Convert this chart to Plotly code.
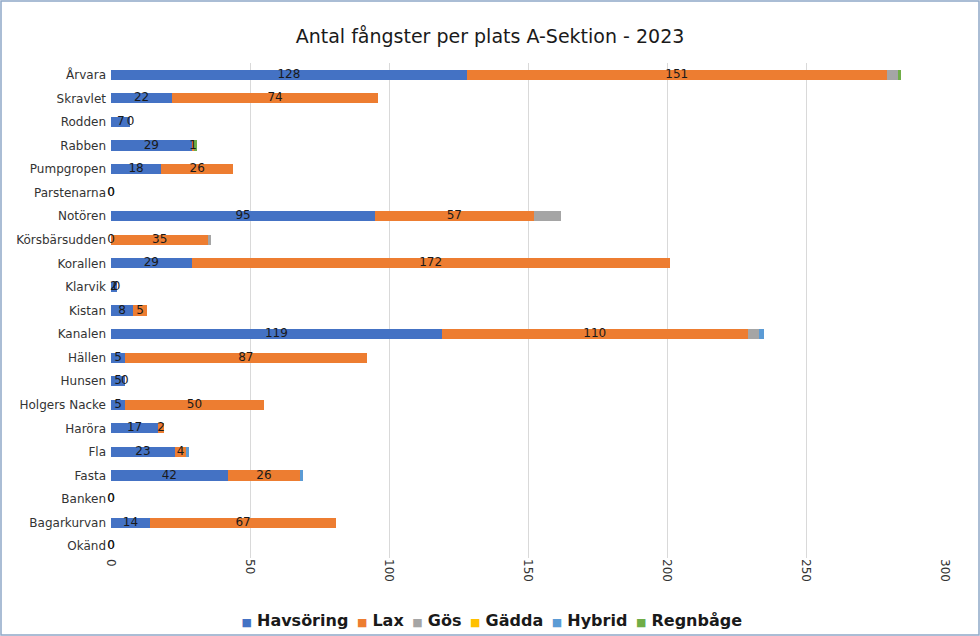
import plotly.graph_objects as go

places = ["Årvara", "Skravlet", "Rodden", "Rabben", "Pumpgropen", "Parstenarna", "Notören",
          "Körsbärsudden", "Korallen", "Klarvik", "Kistan", "Kanalen", "Hällen", "Hunsen",
          "Holgers Nacke", "Haröra", "Fla", "Fasta", "Banken", "Bagarkurvan", "Okänd"]
havsoring = [128, 22, 7, 29, 18, 0, 95, 0, 29, 2, 8, 119, 5, 5, 5, 17, 23, 42, 0, 14, 0]
lax       = [151, 74, 0, 1, 26, 0, 57, 35, 172, 0, 5, 110, 87, 0, 50, 2, 4, 26, 0, 67, 0]
gos       = [4, 0, 0, 0, 0, 0, 10, 1, 0, 0, 0, 4, 0, 0, 0, 0, 0, 0, 0, 0, 0]
gadda     = [0] * 21
hybrid    = [0, 0, 0, 0, 0, 0, 0, 0, 0, 0, 0, 2, 0, 0, 0, 0, 1, 1, 0, 0, 0]
regnbage  = [1, 0, 0, 1, 0, 0, 0, 0, 0, 0, 0, 0, 0, 0, 0, 0, 0, 0, 0, 0, 0]
x_ticks = [0, 50, 100, 150, 200, 250, 300]

series_names = ["Havsöring", "Lax", "Gös", "Gädda", "Hybrid", "Regnbåge"]
series_vals = [havsoring, lax, gos, gadda, hybrid, regnbage]
series_cols = ["#4472C4", "#ED7D31", "#A5A5A5", "#FFC000", "#5B9BD5", "#70AD47"]

fig = go.Figure()
for name, vals, col in zip(series_names, series_vals, series_cols):
    fig.add_trace(go.Bar(y=places, x=vals, name=name, orientation="h", showlegend=False,
                         marker=dict(color=col, line=dict(width=0)), hoverinfo="x+name"))

# data labels for Havsöring and Lax, centred in each segment
lab_x = [h / 2 for h in havsoring] + [h + l / 2 for h, l in zip(havsoring, lax)]
lab_y = places + places
lab_t = [str(v) for v in havsoring] + [str(v) for v in lax]
fig.add_trace(go.Scatter(x=lab_x, y=lab_y, text=lab_t, mode="text", showlegend=False,
                         textposition="middle center", hoverinfo="skip", cliponaxis=False,
                         textfont=dict(family="DejaVu Sans", size=12, color="#1a1a1a")))

W, H = 980, 636
ml, mr, mt, mb = 111, 35, 63, 78
pw, ph = W - ml - mr, H - mt - mb

fig.update_layout(
    width=W, height=H, barmode="stack", bargap=0.57,
    margin=dict(l=ml, r=mr, t=mt, b=mb, autoexpand=False),
    paper_bgcolor="white", plot_bgcolor="white",
    font=dict(family="DejaVu Sans", size=12, color="#333333"),
    title=dict(text="Antal fångster per plats A-Sektion - 2023", x=0.5, xanchor="center",
               yref="container", y=1 - 36 / H, yanchor="middle",
               font=dict(family="DejaVu Sans", size=19, color="#1a1a1a")),
    xaxis=dict(range=[0, 300], tickvals=x_ticks, ticktext=[str(t) for t in x_ticks],
               tickangle=90, showgrid=True, gridcolor="#D9D9D9", gridwidth=1,
               zeroline=False, showline=False, ticks="", fixedrange=True, automargin=False,
               tickfont=dict(size=12, color="#333333")),
    yaxis=dict(categoryorder="array", categoryarray=places,
               range=[len(places) - 0.5, -0.5],
               showgrid=False, zeroline=False, showline=False, ticks="", automargin=False,
               ticklabelstandoff=4, tickfont=dict(size=12, color="#333333")),
    showlegend=False,
)

# legend drawn as one centred line of text
parts = []
for name, col in zip(series_names, series_cols):
    parts.append(f"<span style='color:{col};font-size:11px'> ■</span> <b>{name}</b>")
legend_text = " ".join(parts)
fig.add_annotation(text=legend_text, xref="paper", yref="paper", x=(490 - ml) / pw, xanchor="center",
                   y=-(620 - (H - mb)) / ph, yanchor="middle", showarrow=False,
                   font=dict(family="DejaVu Sans", size=16, color="#1a1a1a"))

# chart border
fig.add_shape(type="rect", xref="paper", yref="paper",
              x0=-(ml - 1) / pw, x1=1 + (mr - 1) / pw, y0=-(mb - 1) / ph, y1=1 + (mt - 1) / ph,
              line=dict(color="#8FA8C8", width=1.5), fillcolor="rgba(0,0,0,0)", layer="below")

fig.write_html("out.html", config={"displayModeBar": False},
               post_script="document.body.style.margin='0';document.body.style.overflow='hidden';")
